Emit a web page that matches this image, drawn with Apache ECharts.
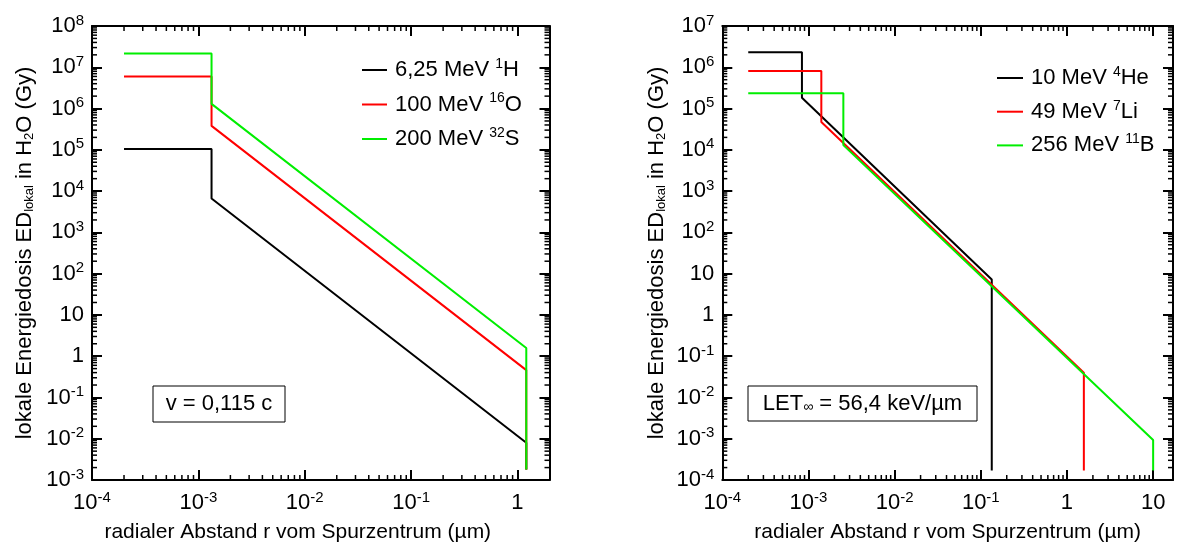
<!DOCTYPE html>
<html>
<head>
<meta charset="utf-8">
<script src="https://cdn.jsdelivr.net/npm/echarts@6/dist/echarts.min.js"></script>
<style>
html,body{margin:0;padding:0;background:#fff;}
#chart{width:1178px;height:548px;}
</style>
</head>
<body>
<div id="chart"></div>
<script>
// ---------- data ----------
// left panel: v = 0,115 c
const leftNames = ['6,25 MeV 1H', '100 MeV 16O', '200 MeV 32S'];
const leftLabels = ['6,25 MeV {sup|1}H', '100 MeV {sup|16}O', '200 MeV {sup|32}S'];
const leftH = [[2e-4, 1.05e5], [1.33e-3, 1.05e5], [1.33e-3, 6.6e3], [1.21, 0.008], [1.21, 1.8e-3]];
const leftO = [[2e-4, 6.0e6], [1.33e-3, 6.0e6], [1.33e-3, 3.8e5], [1.21, 0.46], [1.21, 1.8e-3]];
const leftS = [[2e-4, 2.15e7], [1.33e-3, 2.15e7], [1.33e-3, 1.3e6], [1.21, 1.58], [1.21, 1.8e-3]];
const leftAnnot = 'v = 0,115 c';

// right panel: LET = 56,4 keV/um
const rightNames = ['10 MeV 4He', '49 MeV 7Li', '256 MeV 11B'];
const rightLabels = ['10 MeV {sup|4}He', '49 MeV {sup|7}Li', '256 MeV {sup|11}B'];
const rightHe = [[2e-4, 2.3e6], [8.4e-4, 2.3e6], [8.4e-4, 1.82e5], [0.134, 7.2], [0.134, 1.7e-4]];
const rightLi = [[2e-4, 8.1e5], [1.41e-3, 8.1e5], [1.41e-3, 4.7e4], [1.57, 0.04], [1.57, 1.7e-4]];
const rightB = [[2e-4, 2.35e5], [2.54e-3, 2.35e5], [2.54e-3, 1.3e4], [10, 9.3e-4], [10, 1.7e-4]];
const rightAnnot = 'LET{sub|∞} = 56,4 keV/µm';

// axis extents and labelled decades (exponents)
const leftXRange = [1e-4, 2];
const leftYRange = [1e-3, 1e8];
const rightXRange = [1e-4, 17];
const rightYRange = [1e-4, 1e7];
const leftXTickExp = [-4, -3, -2, -1, 0];
const leftYTickExp = [-3, -2, -1, 0, 1, 2, 3, 4, 5, 6, 7, 8];
const rightXTickExp = [-4, -3, -2, -1, 0, 1];
const rightYTickExp = [-4, -3, -2, -1, 0, 1, 2, 3, 4, 5, 6, 7];
const minorMultipliers = [2, 3, 4, 5, 6, 7, 8, 9];

const xTitle = 'radialer Abstand r vom Spurzentrum (µm)';
const yTitle = 'lokale Energiedosis ED{sub|lokal} in H{sub|2}O (Gy)';

const colors = ['#000000', '#ff0000', '#00ee00'];
// ---------------------------------------------------

const FONT = 'Liberation Sans';
const TICK_FS = 22;

function decades(exps) { return exps.map(e => Math.pow(10, e)); }

function powLabel(allowed) {
  return function (v) {
    const lg = Math.log10(v);
    const e = Math.round(lg);
    if (Math.abs(lg - e) > 1e-6 || allowed.indexOf(e) < 0) return '';
    if (e === 0) return '1';
    if (e === 1) return '10';
    return '10{sup|' + e + '}';
  };
}

const labelRich = {
  sup: { fontSize: 15, fontFamily: FONT, color: '#000', verticalAlign: 'top', lineHeight: 14 }
};

// minor tick positions (2..9 x 10^d) on all four sides
function minorData(xr, yr) {
  const out = [];
  for (let d = Math.floor(Math.log10(xr[0])); d <= Math.ceil(Math.log10(xr[1])); d++) {
    minorMultipliers.forEach(m => {
      const v = m * Math.pow(10, d);
      if (v > xr[0] * 1.0001 && v < xr[1] * 0.9999) {
        out.push([v, yr[0], 0]);
        out.push([v, yr[1], 1]);
      }
    });
  }
  for (let d = Math.floor(Math.log10(yr[0])); d <= Math.ceil(Math.log10(yr[1])); d++) {
    minorMultipliers.forEach(m => {
      const v = m * Math.pow(10, d);
      if (v > yr[0] * 1.0001 && v < yr[1] * 0.9999) {
        out.push([xr[0], v, 2]);
        out.push([xr[1], v, 3]);
      }
    });
  }
  return out;
}

function minorRender(params, api) {
  const L = 5;
  const p = api.coord([api.value(0), api.value(1)]);
  const side = api.value(2);
  let s;
  if (side === 0) s = { x1: p[0], y1: p[1], x2: p[0], y2: p[1] - L };
  else if (side === 1) s = { x1: p[0], y1: p[1], x2: p[0], y2: p[1] + L };
  else if (side === 2) s = { x1: p[0], y1: p[1], x2: p[0] + L, y2: p[1] };
  else s = { x1: p[0], y1: p[1], x2: p[0] - L, y2: p[1] };
  return { type: 'line', shape: s, style: { stroke: '#000', lineWidth: 1.5 } };
}

function xAxes(grid, range, exps, nameShift) {
  const ticks = decades(exps);
  const common = {
    type: 'log', gridIndex: grid, min: range[0], max: range[1], logBase: 10,
    axisLine: { show: true, lineStyle: { color: '#000', width: 2 } },
    axisTick: { show: true, inside: true, length: 10, customValues: ticks, lineStyle: { color: '#000', width: 2 } },
    splitLine: { show: false },
    minorTick: { show: false }
  };
  return [
    Object.assign({}, common, {
      position: 'bottom',
      axisLabel: {
        show: true, customValues: ticks, formatter: powLabel(exps), color: '#000', fontSize: TICK_FS, fontFamily: FONT,
        margin: 10, lineHeight: 26, rich: labelRich, showMinLabel: true, showMaxLabel: true, hideOverlap: false
      },
      name: xTitle, nameLocation: 'middle', nameGap: 42,
      nameTextStyle: { color: '#000', fontSize: 21, fontFamily: FONT, padding: [0, nameShift, 0, 0] }
    }),
    Object.assign({}, common, { position: 'top', axisLabel: { show: false } })
  ];
}

function yAxes(grid, range, exps, nameGap) {
  const ticks = decades(exps);
  const common = {
    type: 'log', gridIndex: grid, min: range[0], max: range[1], logBase: 10,
    axisLine: { show: true, lineStyle: { color: '#000', width: 2 } },
    axisTick: { show: true, inside: true, length: 10, customValues: ticks, lineStyle: { color: '#000', width: 2 } },
    splitLine: { show: false },
    minorTick: { show: false }
  };
  return [
    Object.assign({}, common, {
      position: 'left',
      axisLabel: {
        show: true, customValues: ticks, formatter: powLabel(exps), color: '#000', fontSize: TICK_FS, fontFamily: FONT,
        margin: 8, lineHeight: 26, rich: labelRich, showMinLabel: true, showMaxLabel: true, hideOverlap: false
      },
      name: yTitle, nameLocation: 'middle', nameGap: nameGap,
      nameTextStyle: {
        color: '#000', fontSize: 22, fontFamily: FONT,
        rich: { sub: { fontSize: 13, fontFamily: FONT, color: '#000', verticalAlign: 'bottom', lineHeight: 22 } }
      }
    }),
    Object.assign({}, common, { position: 'right', axisLabel: { show: false } })
  ];
}

function lineSeries(name, data, color, xi, yi) {
  return {
    type: 'line', name: name, data: data, xAxisIndex: xi, yAxisIndex: yi,
    showSymbol: false, symbol: 'none', color: color, animation: false,
    lineStyle: { color: color, width: 2 }, itemStyle: { color: color },
    clip: false
  };
}

function legendLabelMap(names, labels) {
  const m = {};
  names.forEach((n, i) => { m[n] = labels[i]; });
  return m;
}
const leftMap = legendLabelMap(leftNames, leftLabels);
const rightMap = legendLabelMap(rightNames, rightLabels);

const legendText = {
  color: '#000', fontSize: 22, fontFamily: FONT, lineHeight: 26, padding: [0, 0, 0, 3],
  rich: { sup: { fontSize: 14, fontFamily: FONT, color: '#000', verticalAlign: 'top', lineHeight: 14 } }
};

const option = {
  animation: false,
  backgroundColor: '#fff',
  grid: [
    { left: 92, top: 26, right: 1178 - 549.5, bottom: 548 - 480.7, containLabel: false },
    { left: 722.3, top: 26, right: 1178 - 1173, bottom: 548 - 483.3, containLabel: false }
  ],
  xAxis: [].concat(
    xAxes(0, leftXRange, leftXTickExp, 46),
    xAxes(1, rightXRange, rightXTickExp, 0)
  ),
  yAxis: [].concat(
    yAxes(0, leftYRange, leftYTickExp, 56),
    yAxes(1, rightYRange, rightYTickExp, 54)
  ),
  legend: [
    {
      data: leftNames, orient: 'vertical', left: 357, top: 52, itemGap: 8.5,
      icon: 'rect', itemWidth: 25, itemHeight: 2, textStyle: legendText,
      formatter: n => leftMap[n], selectedMode: false
    },
    {
      data: rightNames, orient: 'vertical', left: 992, top: 60, itemGap: 7.7,
      icon: 'rect', itemWidth: 26, itemHeight: 2, textStyle: legendText,
      formatter: n => rightMap[n], selectedMode: false
    }
  ],
  series: [
    lineSeries(leftNames[0], leftH, colors[0], 0, 0),
    lineSeries(leftNames[1], leftO, colors[1], 0, 0),
    lineSeries(leftNames[2], leftS, colors[2], 0, 0),
    lineSeries(rightNames[0], rightHe, colors[0], 2, 2),
    lineSeries(rightNames[1], rightLi, colors[1], 2, 2),
    lineSeries(rightNames[2], rightB, colors[2], 2, 2),
    {
      type: 'custom', xAxisIndex: 0, yAxisIndex: 0, silent: true, animation: false, clip: false,
      renderItem: minorRender, data: minorData(leftXRange, leftYRange), z: 5
    },
    {
      type: 'custom', xAxisIndex: 2, yAxisIndex: 2, silent: true, animation: false, clip: false,
      renderItem: minorRender, data: minorData(rightXRange, rightYRange), z: 5
    }
  ],
  graphic: [
    { type: 'rect', shape: { x: 153, y: 386, width: 132, height: 36 }, style: { fill: '#fff', stroke: '#000', lineWidth: 1 }, z: 10 },
    { type: 'text', x: 219, y: 404, z: 11, style: { text: leftAnnot, fill: '#000', font: '22px "Liberation Sans"', align: 'center', verticalAlign: 'middle' } },
    { type: 'rect', shape: { x: 748, y: 386, width: 229, height: 35 }, style: { fill: '#fff', stroke: '#000', lineWidth: 1 }, z: 10 },
    { type: 'text', x: 862.5, y: 403.5, z: 11, style: {
        text: rightAnnot, fill: '#000', font: '22px "Liberation Sans"', align: 'center', verticalAlign: 'middle',
        rich: { sub: { fontSize: 14, fontFamily: FONT, fill: '#000', verticalAlign: 'bottom', lineHeight: 22 } }
    } }
  ]
};

const chart = echarts.init(document.getElementById('chart'), null, { renderer: 'canvas' });
chart.setOption(option);
</script>
</body>
</html>
